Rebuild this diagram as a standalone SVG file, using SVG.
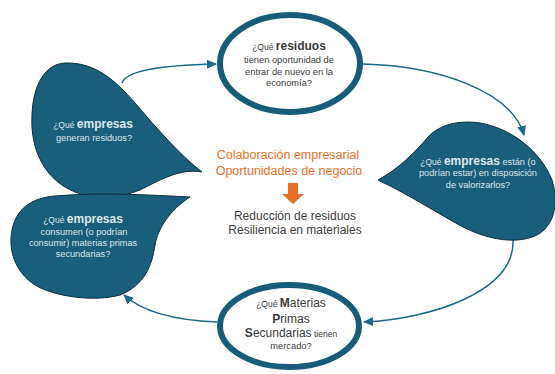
<svg xmlns="http://www.w3.org/2000/svg" width="555" height="374" viewBox="0 0 555 374">
<defs>
<marker id="arr" markerUnits="userSpaceOnUse" markerWidth="10" markerHeight="10" viewBox="0 0 10 10" refX="9" refY="5" orient="auto">
<path d="M0,0.5 L10,5 L0,9.5 Z" fill="#1d6787"/>
</marker>
<style>
.blob{fill:#195e7b;stroke:#0d2d3b;stroke-width:1}
.ring{fill:#fff;stroke:#175d79;stroke-width:6}
.conn{fill:none;stroke:#1d6787;stroke-width:1.5;marker-end:url(#arr)}
text{font-family:"Liberation Sans",Arial,sans-serif;text-anchor:middle}
.dk{fill:#3a3a3a;font-size:9.3px}
.lt{fill:#dde7ec;font-size:9.2px}
.b{font-weight:bold;font-size:12px}
.sm{font-size:8.5px}
.big{font-size:12px}
.or{fill:#e8702a;font-size:12.5px}
.gr{fill:#404040;font-size:12px}
</style>
</defs>
<rect width="555" height="374" fill="#fff"/>
<g id="connectors">
<path class="conn" d="M122,83 C126,70 165,65 216,64"/>
<path class="conn" d="M363,64 C440,66 512,92 524,135"/>
<path class="conn" d="M513,239 C516,292 430,319 364,322"/>
<path class="conn" d="M217,322 C170,320 140,310 124,295"/>
</g>
<g id="node-empresas-generan">
<path class="blob" d="M202,172 C180,168 160,180 140,190 C120,198 95,200 75,192 C45,180 30,150 32,115 C33,85 45,64 65,63 C95,62 115,80 135,103 C160,132 180,155 202,172 Z"/>
<text class="lt" x="93" y="128"><tspan class="sm">¿Qué </tspan><tspan class="b">empresas</tspan></text>
<text class="lt" x="94" y="141">generan residuos?</text>
</g>
<g id="node-empresas-consumen">
<path class="blob" d="M190,197 C170,210 158,228 155,245 C152,265 145,285 120,295 C95,302 55,297 35,285 C15,272 8,250 12,230 C16,210 30,198 55,196 C100,192 150,195 190,197 Z"/>
<text class="lt" x="83" y="223"><tspan class="sm">¿Qué </tspan><tspan class="b">empresas</tspan></text>
<text class="lt" x="84" y="235">consumen (o podrían</text>
<text class="lt" x="83" y="246">consumir) materias primas</text>
<text class="lt" x="83" y="257">secundarias?</text>
</g>
<g id="node-empresas-valorizar">
<path class="blob" d="M378,180 C400,168 415,152 428,137 C440,124 460,120 480,123 C510,128 540,150 552,180 C560,205 553,228 535,236 C515,244 490,240 465,228 C440,215 410,195 378,180 Z"/>
<text class="lt" x="478" y="165"><tspan class="sm">¿Qué </tspan><tspan class="b">empresas</tspan><tspan> están (o</tspan></text>
<text class="lt" x="478" y="176">podrían estar) en disposición</text>
<text class="lt" x="478" y="188">de valorizarlos?</text>
</g>
<g id="node-residuos">
<ellipse class="ring" cx="290" cy="63.5" rx="70" ry="48.5"/>
<text class="dk" x="289" y="50"><tspan class="sm">¿Qué </tspan><tspan class="b">residuos</tspan></text>
<text class="dk" x="289" y="63">tienen oportunidad de</text>
<text class="dk" x="289" y="74.5">entrar de nuevo en la</text>
<text class="dk" x="289" y="85.5">economía?</text>
</g>
<g id="node-mps">
<ellipse class="ring" cx="289.5" cy="326" rx="69.5" ry="41"/>
<text class="dk" x="291" y="307"><tspan class="sm">¿Qué </tspan><tspan class="b">M</tspan><tspan class="big">aterias</tspan></text>
<text class="dk" x="291" y="323"><tspan class="b">P</tspan><tspan class="big">rimas</tspan></text>
<text class="dk" x="291" y="337"><tspan class="b">S</tspan><tspan class="big">ecundarias</tspan><tspan class="sm"> tienen</tspan></text>
<text class="dk" x="291" y="349">mercado?</text>
</g>
<g id="center">
<text class="or" x="288" y="159">Colaboración empresarial</text>
<text class="or" x="289" y="175">Oportunidades de negocio</text>
<path d="M288,183 H298 V194 H304 L293,204 L282,194 H288 Z" fill="#e8702a"/>
<text class="gr" x="295" y="220">Reducción de residuos</text>
<text class="gr" x="295" y="234">Resiliencia en materiales</text>
</g>
</svg>
